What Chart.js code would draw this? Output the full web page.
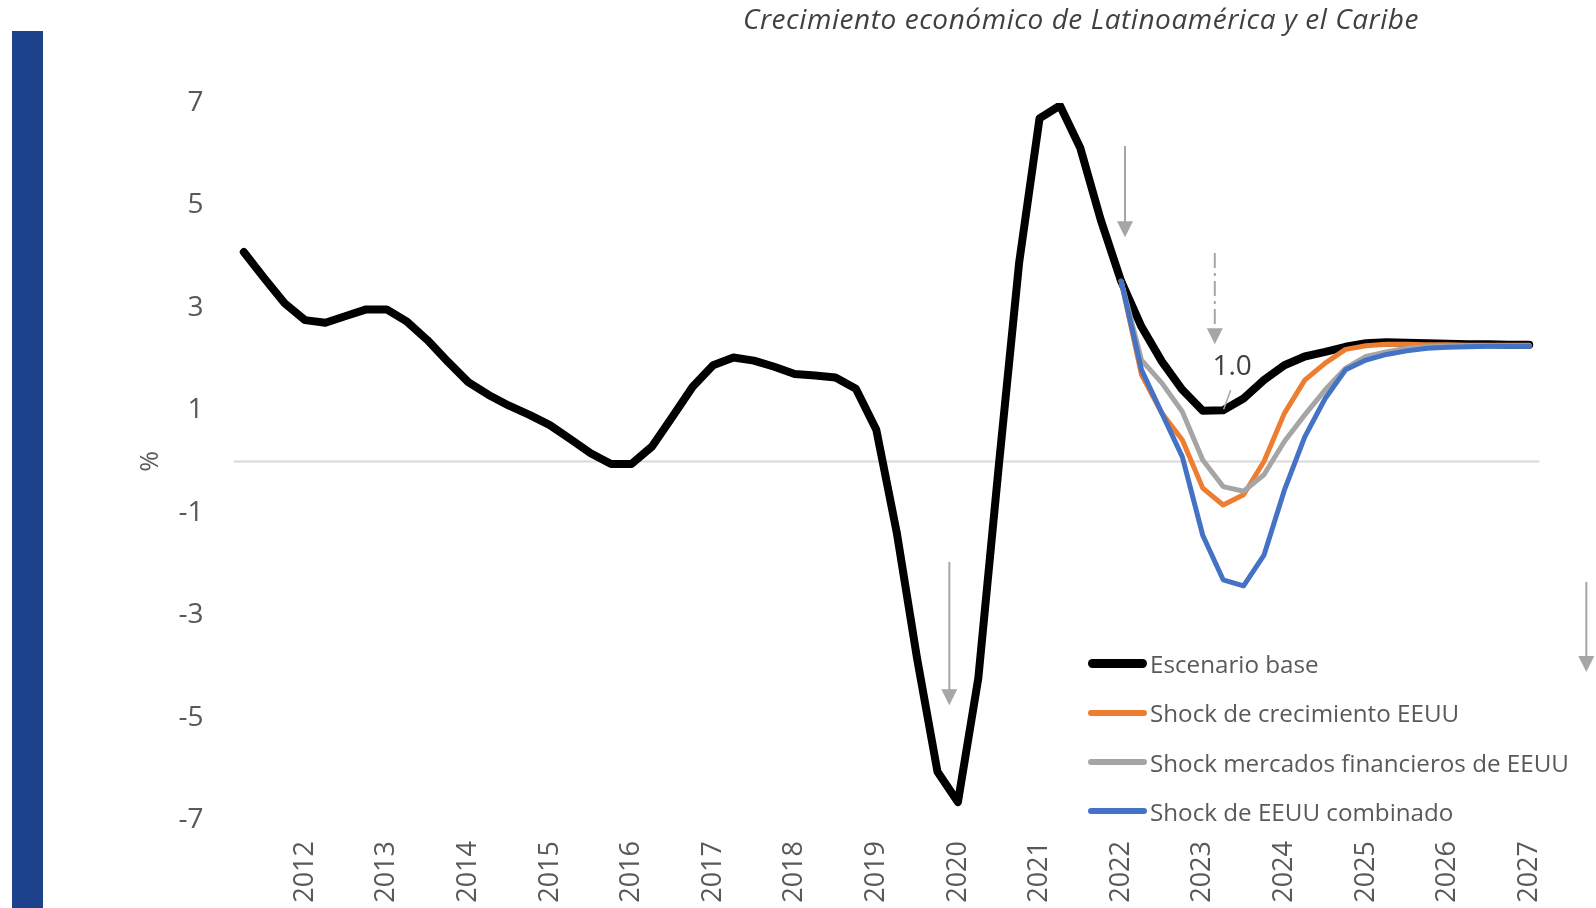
<!DOCTYPE html>
<html lang="es">
<head>
<meta charset="utf-8">
<title>Crecimiento económico de Latinoamérica y el Caribe</title>
<script src="https://cdn.jsdelivr.net/npm/chart.js@4/dist/chart.umd.min.js"></script>
<style>
  html, body { margin: 0; padding: 0; background: #fff; }
  #wrap { position: relative; width: 1596px; height: 908px; overflow: hidden; font-family: "Open Sans", sans-serif; }
  #bar { position: absolute; left: 12px; top: 31px; width: 31px; height: 877px; background: #1b428a; }
  #title { position: absolute; left: 743px; top: 4px; font-size: 28px; line-height: 28px; letter-spacing: 0.55px; font-style: italic; color: #404040; white-space: nowrap; }
  #chart { position: absolute; left: 0; top: 0; }
  #legend { position: absolute; left: 1088px; top: 647px; }
  .item { display: flex; align-items: center; height: 33px; margin-bottom: 16.3px; }
  .swatch { width: 59px; border-radius: 5px; margin-right: 3px; }
  .item span { font-size: 24.2px; line-height: 33px; color: #595959; white-space: nowrap; }
</style>
</head>
<body>
<div id="wrap">
  <div id="bar"></div>
  <canvas id="chart" width="1596" height="908"></canvas>
  <div id="title">Crecimiento económico de Latinoamérica y el Caribe</div>
  <div id="legend"></div>
</div>
<script>
// quarterly data, 2012T1 .. 2027T4
const years = ['2012', '2013', '2014', '2015', '2016', '2017', '2018', '2019',
               '2020', '2021', '2022', '2023', '2024', '2025', '2026', '2027'];
const quarters = ['T1', 'T2', 'T3', 'T4'];

const escenarioBase = [
  4.09, 3.58, 3.09, 2.76, 2.71, 2.84, 2.97, 2.97,
  2.73, 2.37, 1.95, 1.55, 1.30, 1.09, 0.91, 0.71,
  0.44, 0.16, -0.05, -0.05, 0.29, 0.87, 1.46, 1.88,
  2.03, 1.97, 1.85, 1.71, 1.68, 1.64, 1.42, 0.62,
  -1.38, -3.85, -6.06, -6.65, -4.23, -0.10, 3.88, 6.70,
  6.95, 6.12, 4.72, 3.52, 2.63, 1.95, 1.40, 0.99,
  1.00, 1.23, 1.59, 1.88, 2.05, 2.14, 2.24, 2.31,
  2.33, 2.32, 2.31, 2.30, 2.29, 2.29, 2.28, 2.28
];

// shock scenarios start at 2022T4
const shockStart = 43;
const shockCrecimiento = [3.52, 1.69, 0.94, 0.42, -0.52, -0.85, -0.65, 0.00, 0.94, 1.59, 1.92,
                          2.19, 2.26, 2.29, 2.29, 2.28, 2.28, 2.27, 2.27, 2.27, 2.27];
const shockMercados = [3.52, 1.98, 1.53, 0.97, 0.03, -0.49, -0.58, -0.26, 0.39, 0.91, 1.40,
                       1.82, 2.05, 2.14, 2.21, 2.24, 2.25, 2.26, 2.26, 2.26, 2.26];
const shockCombinado = [3.52, 1.79, 0.94, 0.09, -1.44, -2.31, -2.43, -1.83, -0.56, 0.48, 1.23,
                        1.79, 1.98, 2.09, 2.16, 2.21, 2.23, 2.24, 2.25, 2.25, 2.25];

const seriesNames = ['Escenario base', 'Shock de crecimiento EEUU',
                     'Shock mercados financieros de EEUU', 'Shock de EEUU combinado'];

// gray arrows: category position, start value, tip value, dash
const arrows = [
  { at: 34.58, from: -1.96, to: -4.76, dash: [] },
  { at: 43.19, from: 6.16, to: 4.38, dash: [] },
  { at: 47.59, from: 4.07, to: 2.29, dash: [15, 5, 3, 5] },
  { at: 65.8, from: -2.35, to: -4.11, dash: [] }
];
const labelledPoint = 48; // 2023T1, baseline minimum

const labels = years.flatMap(y => quarters.map(q => y + q));
const pad = (values) => Array(shockStart).fill(null).concat(values);

const zeroLine = {
  id: 'zeroLine',
  beforeDatasetsDraw(chart) {
    const { ctx, chartArea, scales } = chart;
    const y = scales.y.getPixelForValue(0);
    ctx.save();
    ctx.strokeStyle = '#d9d9d9';
    ctx.lineWidth = 2;
    ctx.beginPath();
    ctx.moveTo(chartArea.left, y);
    ctx.lineTo(chartArea.right, y);
    ctx.stroke();
    ctx.restore();
  }
};

const notes = {
  id: 'notes',
  afterDatasetsDraw(chart) {
    const { ctx, scales } = chart;
    ctx.save();
    ctx.strokeStyle = '#a6a6a6';
    ctx.fillStyle = '#a6a6a6';
    ctx.lineWidth = 2;
    arrows.forEach(a => {
      const x = scales.x.getPixelForValue(a.at);
      const y0 = scales.y.getPixelForValue(a.from);
      const y1 = scales.y.getPixelForValue(a.to);
      ctx.setLineDash(a.dash);
      ctx.beginPath();
      ctx.moveTo(x, y0);
      ctx.lineTo(x, y1 - 14);
      ctx.stroke();
      ctx.setLineDash([]);
      ctx.beginPath();
      ctx.moveTo(x - 8, y1 - 16);
      ctx.lineTo(x + 8, y1 - 16);
      ctx.lineTo(x, y1);
      ctx.closePath();
      ctx.fill();
    });

    // data label on the baseline minimum
    const pt = chart.getDatasetMeta(0).data[labelledPoint];
    ctx.lineWidth = 1.5;
    ctx.beginPath();
    ctx.moveTo(pt.x + 0.5, pt.y - 1);
    ctx.lineTo(pt.x + 7.5, pt.y - 20);
    ctx.stroke();
    ctx.fillStyle = '#404040';
    ctx.font = '28px "Open Sans"';
    ctx.textAlign = 'center';
    ctx.textBaseline = 'middle';
    ctx.fillText(escenarioBase[labelledPoint].toFixed(1), pt.x + 9, pt.y - 43);
    ctx.restore();
  }
};

const chart = new Chart(document.getElementById('chart'), {
  type: 'line',
  data: {
    labels: labels,
    datasets: [
      { label: seriesNames[0], data: escenarioBase, borderColor: '#000000', borderWidth: 8, order: 4, legendWidth: 9 },
      { label: seriesNames[1], data: pad(shockCrecimiento), borderColor: '#ed7d31', borderWidth: 5, order: 3, legendWidth: 6 },
      { label: seriesNames[2], data: pad(shockMercados), borderColor: '#a5a5a5', borderWidth: 5, order: 2, legendWidth: 6 },
      { label: seriesNames[3], data: pad(shockCombinado), borderColor: '#4472c4', borderWidth: 5, order: 1, legendWidth: 6 }
    ]
  },
  options: {
    responsive: false,
    animation: false,
    devicePixelRatio: 1,
    layout: { padding: { left: 125, right: 56.6, top: 103, bottom: 0 } },
    elements: {
      point: { radius: 0 },
      line: { tension: 0, borderCapStyle: 'round', borderJoinStyle: 'round', fill: false }
    },
    plugins: {
      legend: { display: false },
      tooltip: { enabled: false }
    },
    scales: {
      x: {
        offset: true,
        grid: { display: false, drawTicks: false },
        border: { display: false },
        ticks: {
          autoSkip: false,
          minRotation: 90,
          maxRotation: 90,
          padding: 21,
          color: '#595959',
          font: { family: 'Open Sans', size: 27 },
          callback: function (value) {
            const l = this.getLabelForValue(value);
            return l.endsWith('T4') ? years[years.indexOf(l.slice(0, 4))] : '';
          }
        },
        afterFit: (scale) => { scale.height = 88; }
      },
      y: {
        min: -7,
        max: 7,
        grid: { display: false, drawTicks: false },
        border: { display: false },
        ticks: {
          stepSize: 2,
          padding: 30,
          color: '#595959',
          font: { family: 'Open Sans', size: 28 }
        },
        title: {
          display: true,
          text: '%',
          color: '#595959',
          font: { family: 'Open Sans', size: 25 },
          padding: { top: 11, bottom: 0 }
        },
        afterFit: (scale) => { scale.width = 108.6; }
      }
    }
  },
  plugins: [zeroLine, notes]
});

// html legend built from the datasets
const legend = document.getElementById('legend');
chart.data.datasets.forEach(ds => {
  const item = document.createElement('div');
  item.className = 'item';
  const sw = document.createElement('div');
  sw.className = 'swatch';
  sw.style.background = ds.borderColor;
  sw.style.height = ds.legendWidth + 'px';
  const txt = document.createElement('span');
  txt.textContent = ds.label;
  item.appendChild(sw);
  item.appendChild(txt);
  legend.appendChild(item);
});
</script>
</body>
</html>
